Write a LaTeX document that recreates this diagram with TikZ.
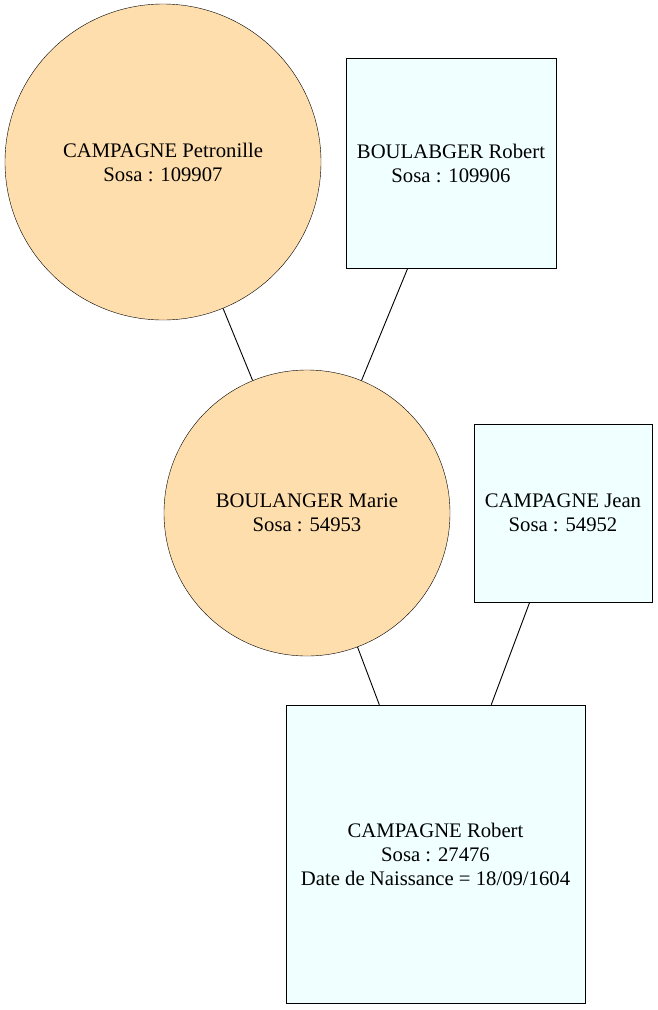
\documentclass[tikz,border=0pt]{standalone}
\usepackage{fontspec}
\setmainfont{Liberation Serif}
\definecolor{navajo}{HTML}{FFDEAD}
\definecolor{azur}{HTML}{F0FFFF}
\begin{document}
\begin{tikzpicture}[x=1pt, y=-1pt,
  femme/.style={circle, draw, fill=navajo, inner sep=0pt, align=center,
    font=\fontsize{20.7}{24}\selectfont},
  homme/.style={rectangle, draw, fill=azur, inner sep=0pt, align=center,
    font=\fontsize{20.7}{24}\selectfont},
  lien/.style={draw, line width=0.9pt}]
\useasboundingbox (0,0) rectangle (658,1010);

\node [femme, minimum size=316pt] (petronille) at (163,162) {CAMPAGNE Petronille\\Sosa : 109907};
\node [homme, minimum size=210pt] (boulabger) at (451,163) {BOULABGER Robert\\Sosa : 109906};
\node [femme, minimum size=286pt] (marie) at (307,513) {BOULANGER Marie\\Sosa : 54953};
\node [homme, minimum size=178pt] (jean) at (563,513) {CAMPAGNE Jean\\Sosa : 54952};
\node [homme, minimum width=299pt, minimum height=298pt] (robert) at (435.5,854) {CAMPAGNE Robert\\Sosa : 27476\\Date de Naissance = 18/09/1604};

\draw [lien] (petronille) -- (marie);
\draw [lien] (boulabger) -- (marie);
\draw [lien] (marie) -- (robert);
\draw [lien] (jean) -- (robert);
\end{tikzpicture}
\end{document}
